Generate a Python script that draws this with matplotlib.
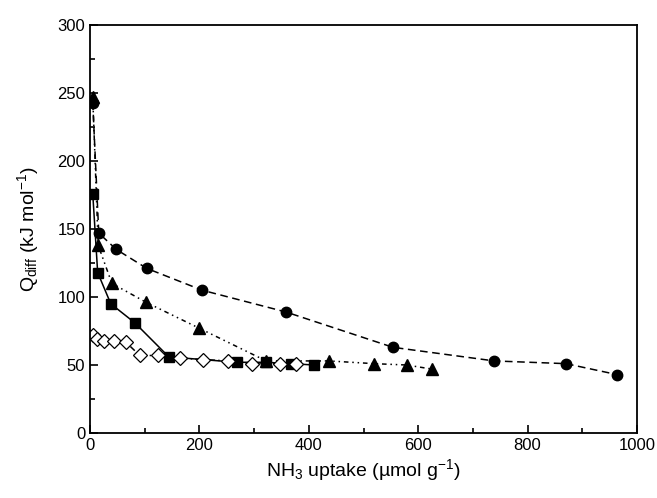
import matplotlib
matplotlib.use('Agg')
import matplotlib.pyplot as plt
from matplotlib.ticker import MultipleLocator

plt.rcParams['font.family'] = ['Liberation Sans', 'DejaVu Sans']
plt.rcParams['mathtext.fontset'] = 'custom'
plt.rcParams['mathtext.rm'] = 'Liberation Sans'
plt.rcParams['mathtext.it'] = 'Liberation Sans'

# ----- DADOS
x_circ = [5, 16, 48, 104, 205, 358, 554, 739, 870, 963]
y_circ = [243, 147, 135, 121, 105, 89, 63, 53, 51, 43]

x_tri = [5, 15, 40, 103, 200, 322, 437, 519, 579, 625]
y_tri = [247, 138, 110, 96, 77, 53, 53, 51, 50, 47]

x_sq = [5, 14, 38, 82, 144, 268, 322, 367, 410]
y_sq = [176, 118, 95, 81, 56, 52, 52, 51, 50]

x_dia = [5, 13, 25, 43, 65, 91, 125, 165, 207, 253, 296, 347, 377]
y_dia = [72, 69, 68, 68, 67, 57, 57, 55, 54, 53, 51, 51, 51]

fig = plt.figure(figsize=(6.57, 4.98), dpi=100)
ax = fig.add_axes([0.137, 0.1305, 0.8326, 0.8193])

ax.plot(x_circ, y_circ, color='black', linestyle=(0, (5, 3)), lw=1.1,
        marker='o', markersize=7.5)
ax.plot(x_tri, y_tri, color='black', linestyle=(0, (3, 2.5, 1, 2.5, 1, 2.5)), lw=1.1,
        marker='^', markersize=8)
ax.plot(x_sq, y_sq, color='black', linestyle='-', lw=1.1,
        marker='s', markersize=7)
ax.plot(x_dia, y_dia, color='black', linestyle=(0, (4, 2, 1, 2)), lw=1.1,
        marker='D', markersize=7, markerfacecolor='white', markeredgewidth=0.9)

ax.set_xlim(0, 1000)
ax.set_ylim(0, 300)
ax.xaxis.set_major_locator(MultipleLocator(200))
ax.xaxis.set_minor_locator(MultipleLocator(100))
ax.yaxis.set_major_locator(MultipleLocator(50))
ax.yaxis.set_minor_locator(MultipleLocator(25))
ax.tick_params(which='both', direction='in', labelsize=12)
ax.tick_params(which='major', length=6, width=1.2)
ax.tick_params(which='minor', length=3.5, width=1.2)
for s in ax.spines.values():
    s.set_linewidth(1.3)

ax.set_xlabel(r"NH$_3$ uptake (µmol g$^{-1}$)", fontsize=14, labelpad=3)
ax.set_ylabel(r"Q$_{\mathrm{diff}}$ (kJ mol$^{-1}$)", fontsize=14, labelpad=12)

plt.savefig("out.png", dpi=100)
